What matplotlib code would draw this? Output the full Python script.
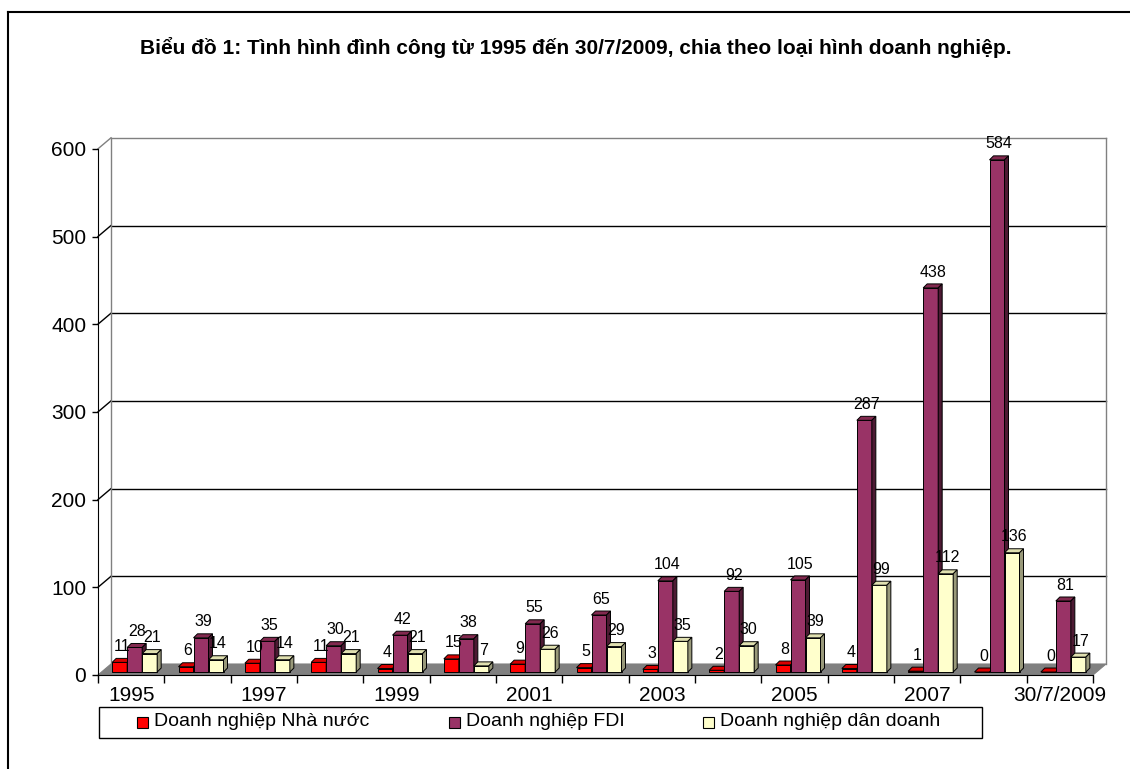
import numpy as np
import matplotlib
matplotlib.use("Agg")
import matplotlib.pyplot as plt
from matplotlib.patches import Polygon, Rectangle
from matplotlib.lines import Line2D

plt.rcParams['font.family'] = ['Liberation Sans', 'DejaVu Sans']

# du lieu doc tu bieu do
categories = ['1995', '1996', '1997', '1998', '1999', '2000', '2001', '2002',
              '2003', '2004', '2005', '2006', '2007', '2008', '30/7/2009']
nha_nuoc = [11, 6, 10, 11, 4, 15, 9, 5, 3, 2, 8, 4, 1, 0, 0]
fdi = [28, 39, 35, 30, 42, 38, 55, 65, 104, 92, 105, 287, 438, 584, 81]
dan_doanh = [21, 14, 14, 21, 21, 7, 26, 29, 35, 30, 39, 99, 112, 136, 17]
series_names = ['Doanh nghiệp Nhà nước', 'Doanh nghiệp FDI', 'Doanh nghiệp dân doanh']
yticks = [0, 100, 200, 300, 400, 500, 600]

front_cols = ['#FF0000', '#993366', '#FFFFCC']
top_cols = ['#D90000', '#82294F', '#E0E0B0']
side_cols = ['#800000', '#4D1A33', '#99997A']

W, H = 1130, 769
fig = plt.figure(figsize=(W / 100, H / 100), dpi=100)

# vung ve: mat truoc tu x=98..1093 px, y=0 o 675 px
px_per_unit = 0.877
ax = fig.add_axes([98 / W, (H - 675) / H, 995 / W, 555 / H])
n = len(categories)
ax.set_xlim(0, n)
ax.set_ylim(0, 555 / px_per_unit)

DX = 13 / (995 / n)       # do sau 3D (don vi x)
DY = 11 / px_per_unit     # do sau 3D (don vi y)
fx, fy = 0.27 * DX, 0.27 * DY
bdx, bdy = 4 / (995 / n), 4 / px_per_unit
bw = 15 / (995 / n)
start = 0.5 - 1.5 * bw

# tuong sau, san, tuong trai
floor = Polygon([(0, 0), (n, 0), (n + DX, DY), (DX, DY)], closed=True,
                facecolor='#808080', edgecolor='#808080', lw=0.8, clip_on=False, zorder=1)
ax.add_patch(floor)
for v in yticks[1:]:
    c = '#808080' if v == yticks[-1] else 'black'
    ax.plot([DX, n + DX], [v + DY, v + DY], color=c, lw=1, clip_on=False, zorder=1)
    ax.plot([0, DX], [v, v + DY], color=c, lw=1, clip_on=False, zorder=1)
ax.plot([DX, DX], [DY, yticks[-1] + DY], color='#808080', lw=1, clip_on=False, zorder=1)
ax.plot([n + DX, n + DX], [DY, yticks[-1] + DY], color='#808080', lw=1, clip_on=False, zorder=1)

x = np.arange(n)
for k, vals in enumerate([nha_nuoc, fdi, dan_doanh]):
    x0 = x + start + k * bw + fx
    ax.bar(x0, vals, width=bw, bottom=fy, align='edge', color=front_cols[k],
           edgecolor='black', linewidth=0.7, zorder=3 + k, clip_on=False)
    for xi, v in zip(x0, vals):
        top = [(xi, fy + v), (xi + bw, fy + v), (xi + bw + bdx, fy + v + bdy), (xi + bdx, fy + v + bdy)]
        side = [(xi + bw, fy), (xi + bw + bdx, fy + bdy), (xi + bw + bdx, fy + v + bdy), (xi + bw, fy + v)]
        ax.add_patch(Polygon(top, closed=True, facecolor=top_cols[k], edgecolor='black',
                             lw=0.7, zorder=3 + k, clip_on=False))
        ax.add_patch(Polygon(side, closed=True, facecolor=side_cols[k], edgecolor='black',
                             lw=0.7, zorder=3 + k, clip_on=False))
        ax.text(xi + bw / 2 + bdx / 2, fy + v + bdy + 5, str(v), ha='center', va='bottom',
                fontsize=11.5, zorder=10, clip_on=False)

# truc
for s in ['top', 'right']:
    ax.spines[s].set_visible(False)
ax.spines['left'].set_bounds(0, yticks[-1])
ax.spines['left'].set_zorder(2)
ax.spines['bottom'].set_zorder(2)
ax.set_yticks(yticks)
ax.tick_params(axis='y', direction='out', length=4.5, width=1, labelsize=15, pad=4)
ax.set_xticks(np.arange(n + 1))
ax.set_xticklabels([])
ax.tick_params(axis='x', which='major', direction='out', length=5.5, width=1)
ax.set_xticks(x[::2] + 0.5, minor=True)
ax.set_xticklabels(categories[::2], minor=True)
ax.tick_params(axis='x', which='minor', length=0, labelsize=15, pad=8)

fig.text(576 / W, 1 - 48 / H,
         'Biểu đồ 1: Tình hình đình công từ 1995 đến 30/7/2009, chia theo loại hình doanh nghiệp.',
         ha='center', va='center', fontsize=15, fontweight='bold')

# chu giai
fig.add_artist(Rectangle((99 / W, 1 - 738 / H), 883 / W, 31 / H, transform=fig.transFigure,
                         facecolor='white', edgecolor='black', lw=1, zorder=0))
leg_x = [137, 449, 703]
for name, c, lx in zip(series_names, front_cols, leg_x):
    fig.add_artist(Rectangle((lx / W, 1 - 728 / H), 11 / W, 11 / H, transform=fig.transFigure,
                             facecolor=c, edgecolor='black', lw=0.8))
    fig.text((lx + 17) / W, 1 - 722 / H, name, ha='left', va='center', fontsize=14)

# khung ngoai
fig.add_artist(Line2D([8 / W, 8 / W], [0, 1 - 12 / H], color='black', lw=1.5))
fig.add_artist(Line2D([8 / W, 1], [1 - 12 / H, 1 - 12 / H], color='black', lw=1.5))

fig.savefig('out.png', dpi=100)
